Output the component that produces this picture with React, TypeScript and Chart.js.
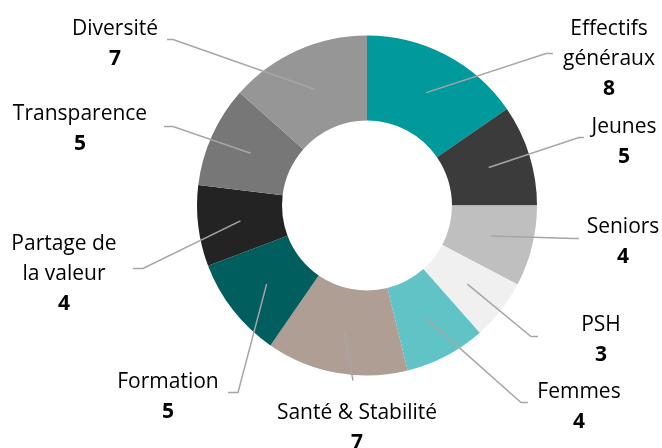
import React, { useEffect, useRef } from "react";
import { Chart, registerables } from "chart.js";

Chart.register(...registerables);

const CATEGORIES: string[][] = [
  ["Effectifs", "généraux"],
  ["Jeunes"],
  ["Seniors"],
  ["PSH"],
  ["Femmes"],
  ["Santé & Stabilité"],
  ["Formation"],
  ["Partage de", "la valeur"],
  ["Transparence"],
  ["Diversité"],
];
const VALUES: number[] = [8, 5, 4, 3, 4, 7, 5, 4, 5, 7];
const COLORS: string[] = [
  "#00999C",
  "#3B3B3B",
  "#BFBFBF",
  "#F0F0F0",
  "#60C3C6",
  "#AE9E94",
  "#005E5F",
  "#232323",
  "#777777",
  "#969696",
];

// Label layout relative to the doughnut centre (px): text centre x, first baseline y,
// elbow point and end point of the leader line.
const LABEL_LAYOUT = [
  { tx: 242, ty: -171, ex: 179, ey: -152, lx: 186, ly: -152 },
  { tx: 257, ty: -73, ex: 212, ey: -68, lx: 217, ly: -68 },
  { tx: 256, ty: 27, ex: 207, ey: 33, lx: 212, ly: 33 },
  { tx: 234, ty: 125, ex: 164, ey: 131, lx: 171, ly: 131 },
  { tx: 212, ty: 192, ex: 154, ey: 197, lx: 161, ly: 197 },
  { tx: -10, ty: 213, ex: -14, ey: 175, lx: -14, ly: 175 },
  { tx: -199, ty: 182, ex: -129, ey: 187, lx: -139, ly: 187 },
  { tx: -303, ty: 44, ex: -224, ey: 63, lx: -234, ly: 63 },
  { tx: -287, ty: -86, ex: -194, ey: -79, lx: -203, ly: -79 },
  { tx: -252, ty: -171, ex: -194, ey: -166, lx: -200, ly: -166 },
];

const FONT = "'Open Sans', 'Noto Sans', sans-serif";
const FONT_SIZE = 21;
const LINE_H = 30;

const labelPlugin = {
  id: "outsideLabels",
  afterDatasetsDraw(chart: any) {
    const ctx = chart.ctx as CanvasRenderingContext2D;
    const meta = chart.getDatasetMeta(0);
    ctx.save();
    meta.data.forEach((arc: any, i: number) => {
      const { x, y, startAngle, endAngle, innerRadius, outerRadius } = arc.getProps(
        ["x", "y", "startAngle", "endAngle", "innerRadius", "outerRadius"],
        true
      );
      const mid = (startAngle + endAngle) / 2;
      const r = (innerRadius + outerRadius) / 2;
      const sx = x + Math.cos(mid) * r;
      const sy = y + Math.sin(mid) * r;
      const L = LABEL_LAYOUT[i];
      ctx.strokeStyle = "#A6A6A6";
      ctx.lineWidth = 1.5;
      ctx.beginPath();
      ctx.moveTo(sx, sy);
      ctx.lineTo(x + L.ex, y + L.ey);
      ctx.lineTo(x + L.lx, y + L.ly);
      ctx.stroke();

      ctx.fillStyle = "#000000";
      ctx.textAlign = "center";
      ctx.textBaseline = "alphabetic";
      const lines = CATEGORIES[i];
      ctx.font = `400 ${FONT_SIZE}px ${FONT}`;
      lines.forEach((t, k) => {
        ctx.fillText(t, x + L.tx, y + L.ty + k * LINE_H);
      });
      ctx.font = `700 ${FONT_SIZE}px ${FONT}`;
      ctx.fillText(String(VALUES[i]), x + L.tx, y + L.ty + lines.length * LINE_H);
    });
    ctx.restore();
  },
};

export default function App() {
  const ref = useRef<HTMLCanvasElement>(null);
  useEffect(() => {
    document.body.style.margin = "0";
    const chart = new Chart(ref.current!, {
      type: "doughnut",
      data: {
        labels: CATEGORIES.map((c) => c.join(" ")),
        datasets: [
          {
            data: VALUES,
            backgroundColor: COLORS,
            borderWidth: 0,
          },
        ],
      },
      options: {
        responsive: false,
        animation: false,
        cutout: "50%",
        layout: { padding: { top: 35, bottom: 72, left: 197, right: 125 } },
        plugins: {
          legend: { display: false },
          tooltip: { enabled: false },
        },
      },
      plugins: [labelPlugin],
    });
    return () => chart.destroy();
  }, []);
  return (
    <div style={{ width: 662, height: 448, background: "#fff" }}>
      <canvas ref={ref} width={662} height={448} />
    </div>
  );
}
